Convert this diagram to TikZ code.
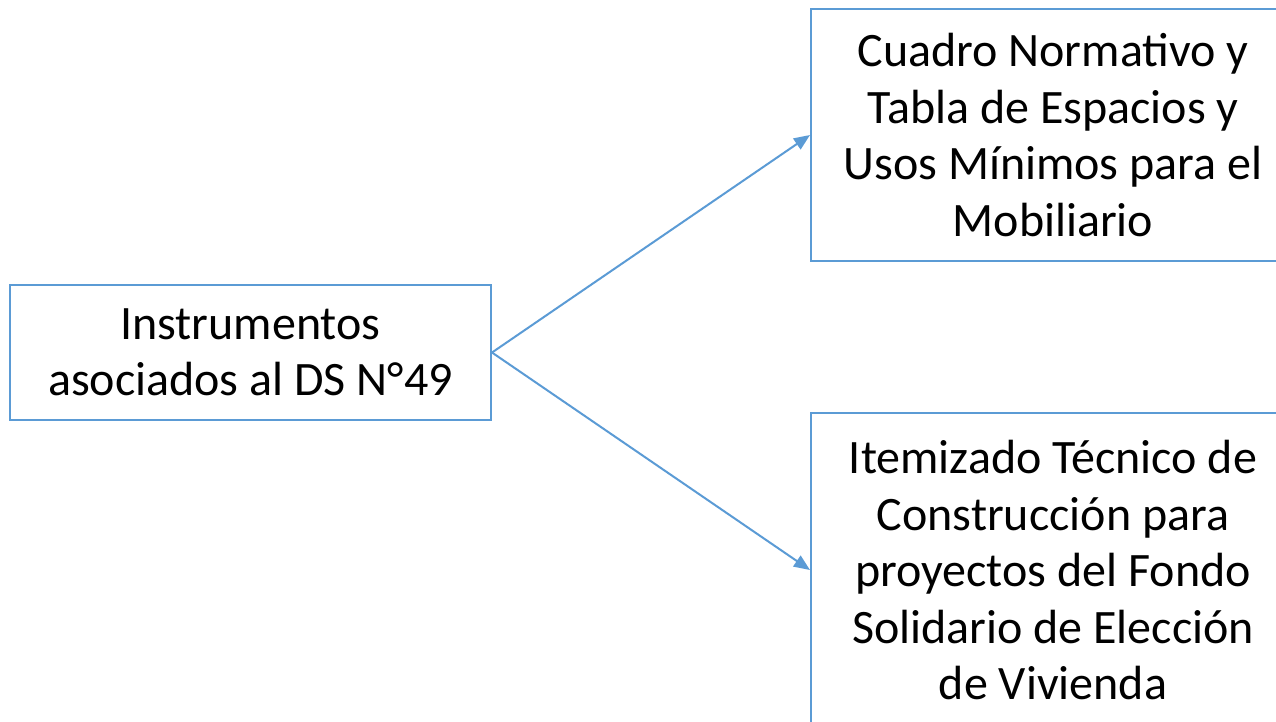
\documentclass[tikz,border=0pt]{standalone}
\usepackage{fontspec}
\setmainfont{Carlito}
\usetikzlibrary{arrows.meta,positioning}
\definecolor{boxblue}{HTML}{5B9BD5}
\tikzset{
  box/.style={rectangle, draw=boxblue, line width=2pt, align=center, inner sep=0pt,
    font=\fontsize{48}{56.5}\selectfont},
  arr/.style={-{Triangle[length=16pt,width=13pt]}, draw=boxblue, fill=boxblue, line width=2pt}
}
\begin{document}
\begin{tikzpicture}[x=1pt, y=-1pt]
\useasboundingbox (0,0) rectangle (1276,721);
\clip (0,0) rectangle (1276,721);
\node[box, minimum width=481pt, minimum height=135pt] (inst) at (250.5,352.5) {Instrumentos\\asociados al DS N°49};
\node[box, minimum width=484pt, minimum height=252pt] (cuadro) at (1053,135) {Cuadro Normativo y\\Tabla de Espacios y\\Usos Mínimos para el\\Mobiliario};
\node[box, minimum width=484pt, minimum height=314pt] (item) at (1053,570) {Itemizado Técnico de\\Construcción para\\proyectos del Fondo\\Solidario de Elección\\de Vivienda};
\draw[arr] (inst.east) -- (cuadro.west);
\draw[arr] (inst.east) -- (item.west);
\end{tikzpicture}
\end{document}
